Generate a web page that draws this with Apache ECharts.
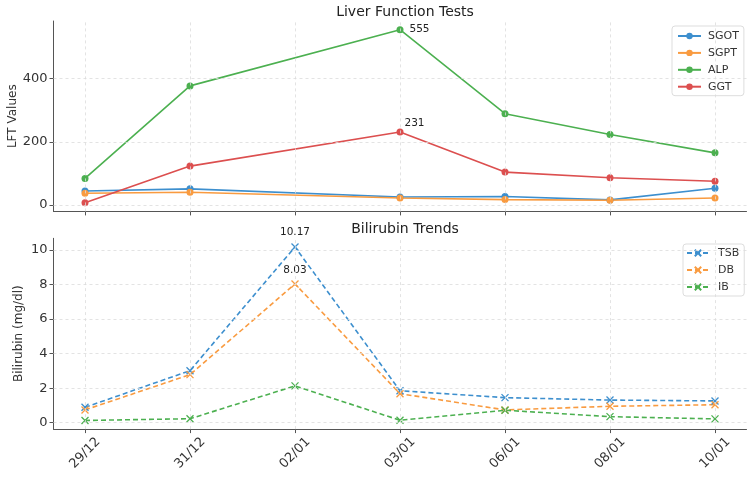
<!DOCTYPE html>
<html>
<head>
<meta charset="utf-8">
<script src="https://cdn.jsdelivr.net/npm/echarts@6/dist/echarts.min.js"></script>
<style>
  html, body { margin: 0; padding: 0; background: #fff; }
  #chart { width: 750px; height: 479px; }
</style>
</head>
<body>
<div id="chart"></div>
<script>
// Data
const dates = ["29/12", "31/12", "02/01", "03/01", "06/01", "08/01", "10/01"];
const sgot = [44, 51, null, 25, 27, 16, 53];
const sgpt = [37, 40, null, 22, 17, 15, 22];
const alp = [84, 377, null, 555, 289, 223, 165];
const ggt = [7, 123, null, 231, 104, 86, 75];
const tsb = [0.89, 3.01, 10.17, 1.85, 1.45, 1.31, 1.26];
const db = [0.74, 2.78, 8.03, 1.68, 0.74, 0.95, 1.04];
const ib = [0.13, 0.23, 2.13, 0.14, 0.72, 0.35, 0.22];
const lftTicks = [0, 200, 400];
const biliTicks = [0, 2, 4, 6, 8, 10];

const FONT = "DejaVu Sans";
const AXIS_COLOR = "#555";
const TEXT_COLOR = "#333";
const COLORS = { blue: "#3d8fce", orange: "#f99b40", green: "#4cb050", red: "#dc4f4f" };
const X_MARK = "path://M0,0L10,10M10,0L0,10";
const xIdx = dates.map((d, i) => i);

// point with an annotation label
function annotated(arr, idx, labelCfg) {
  return arr.map((v, i) => {
    if (i !== idx) return [i, v];
    return { value: [i, v], label: Object.assign({ show: true, color: "#222", fontSize: 10.5, fontFamily: FONT }, labelCfg) };
  });
}

function lftSeries(name, arr, color, data) {
  return {
    name, type: "line", xAxisIndex: 0, yAxisIndex: 0,
    data: data || arr.map((v, i) => [i, v]),
    connectNulls: true,
    symbol: "circle", symbolSize: 7,
    itemStyle: { color },
    lineStyle: { color, width: 1.6 },
    emphasis: { disabled: true }
  };
}

function biliSeries(name, arr, color, data) {
  return {
    name, type: "line", xAxisIndex: 1, yAxisIndex: 1,
    data: data || arr.map((v, i) => [i, v]),
    symbol: X_MARK, symbolSize: 7,
    itemStyle: { color: "transparent", borderColor: color, borderWidth: 1.3 },
    lineStyle: { color, width: 1.6, type: [5, 3] },
    emphasis: { disabled: true }
  };
}

function xAxisCfg(gridIndex, showLabels) {
  return {
    type: "value", gridIndex, min: -0.3, max: 6.3,
    axisLine: { show: true, onZero: false, lineStyle: { color: AXIS_COLOR, width: 1 } },
    axisTick: { show: true, customValues: xIdx, length: 4, lineStyle: { color: AXIS_COLOR } },
    axisLabel: {
      show: showLabels, customValues: xIdx,
      formatter: (v) => dates[Math.round(v)] || "",
      rotate: 45, align: "center", verticalAlign: "middle", margin: 24,
      fontSize: 13, fontFamily: FONT, color: TEXT_COLOR
    },
    splitLine: { show: false }
  };
}

function yAxisCfg(gridIndex, min, max, ticks, name, gap) {
  return {
    type: "value", gridIndex, min, max,
    name, nameLocation: "middle", nameGap: gap, nameMoveOverlap: false,
    nameTextStyle: { fontSize: 12, fontFamily: FONT, color: TEXT_COLOR },
    axisLine: { show: true, onZero: false, lineStyle: { color: AXIS_COLOR, width: 1 } },
    axisTick: { show: true, customValues: ticks, length: 4, lineStyle: { color: AXIS_COLOR } },
    axisLabel: { customValues: ticks, fontSize: 13, fontFamily: FONT, color: TEXT_COLOR, margin: 6 },
    splitLine: { show: false }
  };
}

// dashed grid lines as markLines on helper series
function gridLines(xi, yi, xs, ys) {
  return {
    type: "line", xAxisIndex: xi, yAxisIndex: yi, data: [], silent: true,
    markLine: {
      silent: true, symbol: "none", label: { show: false },
      lineStyle: { color: "#dcdcdc", type: [3, 3], width: 0.8 },
      data: xs.map(x => ({ xAxis: x })).concat(ys.map(y => ({ yAxis: y })))
    }
  };
}

const chart = echarts.init(document.getElementById("chart"), null, { renderer: "canvas" });

chart.setOption({
  animation: false,
  backgroundColor: "#fff",
  textStyle: { fontFamily: FONT },
  title: [
    { text: "Liver Function Tests", left: 400, top: 0, textAlign: "center",
      textStyle: { fontSize: 14, fontWeight: "normal", fontFamily: FONT, color: "#222" } },
    { text: "Bilirubin Trends", left: 400, top: 217, textAlign: "center",
      textStyle: { fontSize: 14, fontWeight: "normal", fontFamily: FONT, color: "#222" } }
  ],
  legend: [
    {
      data: ["SGOT", "SGPT", "ALP", "GGT"], left: 672, top: 26,
      orient: "vertical", itemWidth: 23, itemHeight: 8, itemGap: 4.9,
      padding: [4, 5, 3, 5],
      borderColor: "#ddd", borderWidth: 1, borderRadius: 3,
      textStyle: { fontSize: 11, lineHeight: 12, fontFamily: FONT, color: TEXT_COLOR, padding: [0, 0, 0, 2] }
    },
    {
      data: ["TSB", "DB", "IB"], left: 683, top: 244,
      orient: "vertical", itemWidth: 22, itemHeight: 8, itemGap: 5,
      padding: [3, 5, 3, 3],
      borderColor: "#ddd", borderWidth: 1, borderRadius: 3,
      textStyle: { fontSize: 11, lineHeight: 12, fontFamily: FONT, color: TEXT_COLOR, padding: [0, 0, 0, 4] }
    }
  ],
  grid: [
    { left: 53.5, right: 3.5, top: 21, height: 190.4, outerBoundsMode: "none", containLabel: false },
    { left: 53.5, right: 3.5, top: 238.3, height: 190.8, outerBoundsMode: "none", containLabel: false }
  ],
  xAxis: [xAxisCfg(0, false), xAxisCfg(1, true)],
  yAxis: [
    yAxisCfg(0, -20.4, 582.4, lftTicks, "LFT Values", 35),
    yAxisCfg(1, -0.37, 10.67, biliTicks, "Bilirubin (mg/dl)", 29)
  ],
  series: [
    gridLines(0, 0, xIdx, lftTicks),
    gridLines(1, 1, xIdx, biliTicks),
    lftSeries("SGOT", sgot, COLORS.blue),
    lftSeries("SGPT", sgpt, COLORS.orange),
    lftSeries("ALP", alp, COLORS.green, annotated(alp, 3, { position: "right", distance: 6 })),
    lftSeries("GGT", ggt, COLORS.red, annotated(ggt, 3, { position: "right", distance: 1, offset: [0, -9] })),
    biliSeries("TSB", tsb, COLORS.blue, annotated(tsb, 2, { position: "top", distance: 5 })),
    biliSeries("DB", db, COLORS.orange, annotated(db, 2, { position: "top", distance: 4 })),
    biliSeries("IB", ib, COLORS.green)
  ]
});
</script>
</body>
</html>
